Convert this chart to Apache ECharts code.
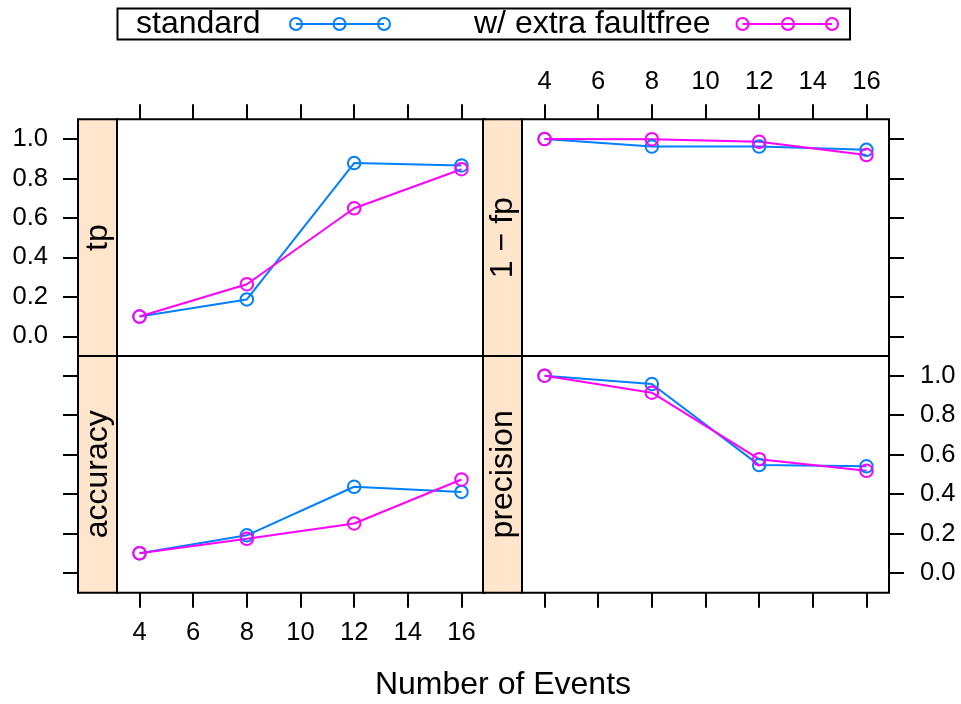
<!DOCTYPE html>
<html>
<head>
<meta charset="utf-8">
<script src="https://cdn.jsdelivr.net/npm/echarts@6/dist/echarts.min.js"></script>
<style>
  html, body { margin: 0; padding: 0; background: #fff; }
  #chart { width: 961px; height: 704px; }
</style>
</head>
<body>
<div id="chart"></div>
<script>
// Number of events on the x axis
const events = [4, 8, 12, 16];

// Series values per metric
const tpStandard = [0.10, 0.187, 0.878, 0.866];
const tpFaultfree = [0.10, 0.264, 0.649, 0.847];

const oneMinusFpStandard = [1.00, 0.962, 0.962, 0.945];
const oneMinusFpFaultfree = [1.00, 0.999, 0.986, 0.919];

const accuracyStandard = [0.10, 0.191, 0.437, 0.411];
const accuracyFaultfree = [0.10, 0.173, 0.251, 0.474];

const precisionStandard = [1.00, 0.958, 0.547, 0.541];
const precisionFaultfree = [1.00, 0.914, 0.577, 0.518];

// Tick positions / labels
const xTicks = [4, 6, 8, 10, 12, 14, 16];
const yTicks = [0, 0.2, 0.4, 0.6, 0.8, 1.0];

const seriesNames = ['standard', 'w/ extra faultfree'];
const stripLabels = ['tp', '1 \u2212 fp', 'accuracy', 'precision'];

const FONT = '"Liberation Sans", Arial, Helvetica, sans-serif';
const BLUE = '#0080ff';
const MAGENTA = '#ff00ff';
const LW = 2;

// Panel layout (plot areas); strips sit to the left of each plot area
const stripW = 39;
const plotW = 367;
const plotH = 236.7;
const topY = 119.3;
const leftX = 117;
const rightX = 522;
const panels = [
  { left: leftX,  top: topY,         strip: stripLabels[0], std: tpStandard,         ff: tpFaultfree,         xPos: 'top',    xLabel: false, yPos: 'left',  yLabel: true  },
  { left: rightX, top: topY,         strip: stripLabels[1], std: oneMinusFpStandard, ff: oneMinusFpFaultfree, xPos: 'top',    xLabel: true,  yPos: 'right', yLabel: false },
  { left: leftX,  top: topY + plotH, strip: stripLabels[2], std: accuracyStandard,   ff: accuracyFaultfree,   xPos: 'bottom', xLabel: true,  yPos: 'left',  yLabel: false },
  { left: rightX, top: topY + plotH, strip: stripLabels[3], std: precisionStandard,  ff: precisionFaultfree,  xPos: 'bottom', xLabel: false, yPos: 'right', yLabel: true  }
];

const grids = [], xAxes = [], yAxes = [], series = [], graphics = [];

panels.forEach((p, i) => {
  grids.push({
    left: p.left, top: p.top, width: plotW, height: plotH,
    show: true, borderColor: '#000', borderWidth: LW, backgroundColor: '#fff'
  });
  xAxes.push({
    gridIndex: i, type: 'value', position: p.xPos,
    min: 3.16, max: 16.84,
    axisLine: { show: false, onZero: false },
    splitLine: { show: false },
    axisTick: { show: true, inside: false, length: 15, customValues: xTicks, lineStyle: { color: '#000', width: LW } },
    axisLabel: {
      show: p.xLabel, customValues: xTicks, margin: p.xPos === 'top' ? 24 : 27,
      color: '#000', fontSize: 25.6, fontFamily: FONT,
      formatter: v => String(v)
    }
  });
  yAxes.push({
    gridIndex: i, type: 'value', position: p.yPos,
    offset: p.yPos === 'left' ? stripW : 0,
    min: -0.1, max: 1.1,
    axisLine: { show: false, onZero: false },
    splitLine: { show: false },
    axisTick: { show: true, inside: false, length: 15, customValues: yTicks, lineStyle: { color: '#000', width: LW } },
    axisLabel: {
      show: p.yLabel, customValues: yTicks, margin: p.yPos === 'left' ? 30 : 31,
      color: '#000', fontSize: 25.6, fontFamily: FONT,
      formatter: v => v.toFixed(1)
    }
  });
  [[p.std, BLUE, seriesNames[0]], [p.ff, MAGENTA, seriesNames[1]]].forEach(([vals, col, name]) => {
    series.push({
      type: 'line', name: name, xAxisIndex: i, yAxisIndex: i,
      data: events.map((e, k) => [e, vals[k]]),
      symbol: 'circle', symbolSize: 12.5,
      itemStyle: { color: 'rgba(0,0,0,0)', borderColor: col, borderWidth: LW },
      lineStyle: { color: col, width: LW },
      emphasis: { disabled: true },
      silent: true
    });
  });
  // strip with rotated label
  graphics.push({
    type: 'rect',
    shape: { x: p.left - stripW, y: p.top, width: stripW, height: plotH },
    style: { fill: '#ffe5cc', stroke: '#000', lineWidth: LW },
    z: 10
  });
  graphics.push({
    type: 'text',
    x: p.left - stripW / 2 + 1, y: p.top + plotH / 2,
    rotation: Math.PI / 2,
    style: { text: p.strip, fontSize: 32, fontFamily: FONT, fill: '#000', align: 'center', verticalAlign: 'middle' },
    z: 11
  });
});

// key box above the panels
graphics.push({
  type: 'rect', shape: { x: 117.5, y: 8.5, width: 732.5, height: 31 },
  style: { fill: '#fff', stroke: '#000', lineWidth: LW }, z: 10
});
const keyItems = [
  { label: seriesNames[0], textX: 136, pts: [296, 339.5, 384], col: BLUE },
  { label: seriesNames[1], textX: 474, pts: [742.5, 788, 832], col: MAGENTA }
];
keyItems.forEach(k => {
  graphics.push({
    type: 'text', x: k.textX, y: 24.5,
    style: { text: k.label, fontSize: 32, fontFamily: FONT, fill: '#000', align: 'left', verticalAlign: 'middle' }, z: 11
  });
  graphics.push({
    type: 'line', shape: { x1: k.pts[0], y1: 24, x2: k.pts[2], y2: 24 },
    style: { stroke: k.col, lineWidth: LW }, z: 11
  });
  k.pts.forEach(px => {
    graphics.push({
      type: 'circle', shape: { cx: px, cy: 24, r: 6 },
      style: { fill: null, stroke: k.col, lineWidth: LW }, z: 11
    });
  });
});

// x-axis title
graphics.push({
  type: 'text', x: 503, y: 685,
  style: { text: 'Number of Events', fontSize: 32, fontFamily: FONT, fill: '#000', align: 'center', verticalAlign: 'middle' }, z: 11
});

const chart = echarts.init(document.getElementById('chart'), null, { renderer: 'canvas' });
chart.setOption({
  animation: false,
  backgroundColor: '#fff',
  grid: grids,
  xAxis: xAxes,
  yAxis: yAxes,
  series: series,
  graphic: graphics
});
</script>
</body>
</html>
